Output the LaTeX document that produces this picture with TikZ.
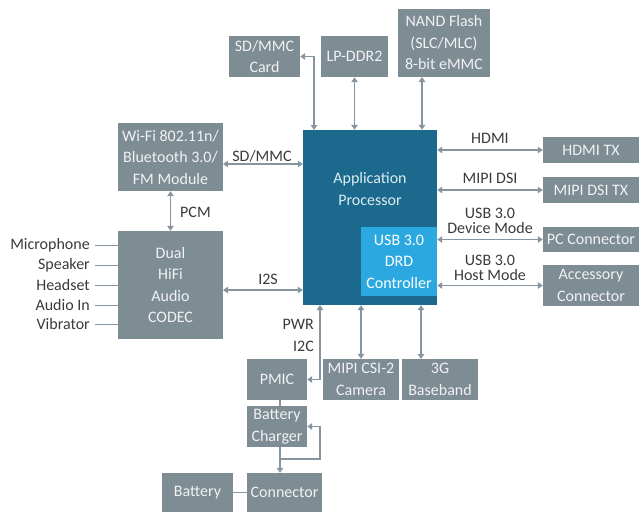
\documentclass[tikz,border=0pt]{standalone}
\usepackage{fontspec}
\setmainfont{Carlito}
\usetikzlibrary{arrows.meta}
\definecolor{boxgray}{HTML}{7E8C93}
\definecolor{apblue}{HTML}{1B6A8D}
\definecolor{usbblue}{HTML}{2AA8DF}
\definecolor{arrowgray}{HTML}{8795A0}
\definecolor{labeltext}{HTML}{3A3A3A}
\definecolor{boxtext}{HTML}{F0F2F3}
\definecolor{aptext}{HTML}{DCEBF2}
\begin{document}
\begin{tikzpicture}[x=1pt,y=-1pt,
  blk/.style={rectangle, fill=boxgray, text=boxtext, inner sep=0pt, align=center, font=\fontsize{16}{21.5}\selectfont},
  lbl/.style={text=labeltext, inner sep=0pt, align=center, font=\fontsize{16}{15}\selectfont},
  link/.style={draw=arrowgray, line width=1.3pt},
  biarrow/.style={link, {Triangle[length=5pt,width=6.5pt]}-{Triangle[length=5pt,width=6.5pt]}},
  toarrow/.style={link, -{Triangle[length=5pt,width=6.5pt]}},
]
\useasboundingbox (0,0) rectangle (639,512);

% main blocks
\node[blk, fill=apblue, minimum width=134pt, minimum height=175pt] (ap) at (370,217.5) {};
\node[lbl, text=aptext, font=\fontsize{16}{21.5}\selectfont] (aplabel) at (370,189) {Application\\Processor};
\node[blk, fill=usbblue, text=white, minimum width=76pt, minimum height=69pt] (usb) at (399,261.5) {USB 3.0\\DRD\\Controller};

\node[blk, minimum width=71pt, minimum height=41pt] (sdcard) at (264.5,56.5) {SD/MMC\\Card};
\node[blk, minimum width=67pt, minimum height=41pt] (lpddr) at (354.5,56.5) {LP-DDR2};
\node[blk, minimum width=92pt, minimum height=68pt] (nand) at (444,43) {NAND Flash\\(SLC/MLC)\\8-bit eMMC};

\node[blk, minimum width=96pt, minimum height=26pt] (hdmitx) at (591,150) {HDMI TX};
\node[blk, minimum width=96pt, minimum height=26pt] (dsitx) at (591,190) {MIPI DSI TX};
\node[blk, minimum width=96pt, minimum height=25pt] (pc) at (591,239.5) {PC Connector};
\node[blk, minimum width=96pt, minimum height=41pt] (acc) at (591,285.5) {Accessory\\Connector};

\node[blk, minimum width=76pt, minimum height=41pt] (cam) at (361,379.5) {MIPI CSI-2\\Camera};
\node[blk, minimum width=76pt, minimum height=41pt] (bb) at (440,379.5) {3G\\Baseband};

\node[blk, minimum width=105pt, minimum height=68pt] (wifi) at (170.5,157) {Wi-Fi 802.11n/\\Bluetooth 3.0/\\FM Module};
\node[blk, minimum width=105pt, minimum height=108pt] (codec) at (170.5,285) {Dual\\HiFi\\Audio\\CODEC};

\node[blk, minimum width=60pt, minimum height=41pt] (pmic) at (277,379.5) {PMIC};
\node[blk, minimum width=60pt, minimum height=41pt] (charger) at (277,426.5) {Battery\\Charger};
\node[blk, minimum width=75pt, minimum height=39pt] (conn) at (284.5,492.5) {Connector};
\node[blk, minimum width=71pt, minimum height=39pt] (batt) at (197.5,492.5) {Battery};

% top connections
\coordinate (apsd) at (314,130);
\draw[biarrow] (sdcard.east) -| (apsd);
\draw[biarrow] (lpddr.south) -- (lpddr.south |- ap.north);
\coordinate (nandp) at (422,77);
\draw[biarrow] (nandp) -- (nandp |- ap.north);

% right connections
\draw[biarrow] (ap.east |- hdmitx) -- (hdmitx.west);
\node[lbl] (hdmilbl) at (490,138) {HDMI};
\draw[biarrow] (ap.east |- dsitx) -- (dsitx.west);
\node[lbl] (dsilbl) at (490,178) {MIPI DSI};
\draw[biarrow] (usb.east |- pc) -- (pc.west);
\node[lbl] (devlbl) at (490,220.5) {USB 3.0\\Device Mode};
\draw[biarrow] (usb.east |- acc) -- (acc.west);
\node[lbl] (hostlbl) at (490,267.5) {USB 3.0\\Host Mode};

% bottom connections
\draw[biarrow] (cam.north) -- (cam.north |- ap.south);
\coordinate (bbp) at (421,359);
\draw[biarrow] (bbp) -- (bbp |- ap.south);
\coordinate (pwrp) at (320,305);
\draw[biarrow] (pwrp) |- (pmic.east);
\node[lbl, anchor=east] (pwrlbl) at (314,324) {PWR};
\node[lbl, anchor=east] (i2clbl) at (314,346) {I2C};

% left connections
\coordinate (wifip) at (223,164);
\draw[biarrow] (wifip) -- (wifip -| ap.west);
\node[lbl] (sdlbl) at (262,156) {SD/MMC};
\draw[biarrow] (wifi.south) -- (codec.north);
\node[lbl, anchor=west] (pcmlbl) at (180,212) {PCM};
\coordinate (i2sp) at (223,290);
\draw[biarrow] (i2sp) -- (i2sp -| ap.west);
\node[lbl] (i2slbl) at (268,279) {I2S};

% audio inputs
\foreach \nm/\txt/\yy in {mic/Microphone/245, spk/Speaker/265, hs/Headset/285, ain/Audio In/305, vib/Vibrator/324}{
  \node[lbl, anchor=east] (\nm) at (90,\yy) {\txt};
  \draw[link, line width=1pt] (\nm.east) ++(5,0) -- (\nm.east -| codec.west);
}

% power chain
\coordinate (pmicb) at (280,400);
\draw[link] (pmicb) -- (pmicb |- charger.north);
\coordinate (chgb) at (280,447);
\draw[toarrow] (chgb) -- (chgb |- conn.north);
\coordinate (loopa) at (280,459);
\coordinate (loopb) at (320,459);
\draw[toarrow] (loopa) -- (loopb) |- (charger.east);
\draw[link] (batt.east) -- (conn.west);
\end{tikzpicture}
\end{document}
